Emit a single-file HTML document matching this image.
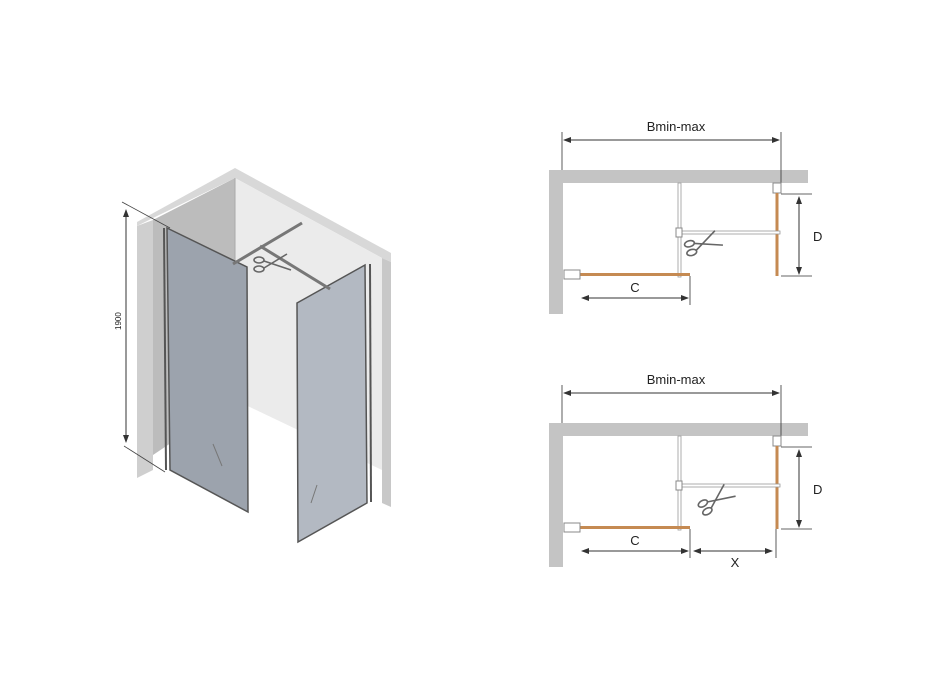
<!DOCTYPE html>
<html><head><meta charset="utf-8"><style>
html,body{margin:0;padding:0;background:#fff;}
svg{display:block}
text{font-family:"Liberation Sans",sans-serif;fill:#222}
</style></head><body>
<svg width="928" height="686" viewBox="0 0 928 686" xmlns="http://www.w3.org/2000/svg">
<defs>
<marker id="a" markerWidth="8" markerHeight="8" refX="7" refY="4" orient="auto"><path d="M0,1 L8,4 L0,7 z" fill="#333"/></marker>
<marker id="b" markerWidth="8" markerHeight="8" refX="1" refY="4" orient="auto"><path d="M8,1 L0,4 L8,7 z" fill="#333"/></marker>
<g id="sc"><g fill="none" stroke="#666" stroke-width="1.6">
<ellipse cx="-14" cy="-4" rx="5" ry="3"/><ellipse cx="-14" cy="5" rx="5" ry="3"/>
<path d="M-9,-3 L18,6 M-9,4 L14,-10"/></g></g>
</defs>
<rect width="928" height="686" fill="#fff"/>

<!-- ISO drawing -->
<polygon points="137,222 235,168 391,253 391,262 382,258 235,178 153,218 137,226" fill="#d8d8d8"/>
<polygon points="153,220 235,178 235,400 153,455" fill="#bcbcbc"/>
<polygon points="235,178 382,258 382,470 235,400" fill="#ebebeb"/>
<polygon points="137,226 153,220 153,470 137,478" fill="#cfcfcf"/>
<polygon points="382,258 391,262 391,507 382,503" fill="#c8c8c8"/>
<line x1="235" y1="178" x2="235" y2="400" stroke="#aaa" stroke-width="1"/>
<!-- left glass -->
<polygon points="167,228 247,267 248,512 170,470" fill="#9ca3ad" stroke="#555" stroke-width="1.5"/>
<line x1="164" y1="228" x2="166" y2="470" stroke="#555" stroke-width="2"/>
<!-- right glass -->
<polygon points="297,303 365,265 367,503 298,542" fill="#b3b9c2" stroke="#555" stroke-width="1.5"/>
<line x1="370" y1="264" x2="371" y2="502" stroke="#555" stroke-width="2"/>
<g stroke="#777" stroke-width="1"><line x1="213" y1="444" x2="222" y2="466"/><line x1="317" y1="485" x2="311" y2="503"/></g>
<!-- rods -->
<line x1="233" y1="264" x2="302" y2="223" stroke="#777" stroke-width="3"/>
<line x1="260" y1="246" x2="330" y2="289" stroke="#777" stroke-width="3"/>
<use href="#sc" transform="translate(273,264)"/>
<!-- height dim -->
<line x1="122" y1="202" x2="170" y2="228" stroke="#444" stroke-width="0.8"/>
<line x1="124" y1="446" x2="165" y2="472" stroke="#444" stroke-width="0.8"/>
<line x1="126" y1="210" x2="126" y2="442" stroke="#333" stroke-width="1" marker-start="url(#b)" marker-end="url(#a)"/>
<text x="0" y="0" font-size="8" transform="translate(121,330) rotate(-90)">1900</text>

<!-- Plan 1 -->
<g>
<rect x="549" y="170" width="259" height="13" fill="#c4c4c4"/>
<rect x="549" y="170" width="14" height="144" fill="#c4c4c4"/>
<line x1="562" y1="132" x2="562" y2="170" stroke="#333" stroke-width="0.8"/>
<line x1="781" y1="132" x2="781" y2="183" stroke="#333" stroke-width="0.8"/>
<line x1="564" y1="140" x2="779" y2="140" stroke="#333" stroke-width="1" marker-start="url(#b)" marker-end="url(#a)"/>
<text x="676" y="131" font-size="13" text-anchor="middle">Bmin-max</text>
<rect x="773" y="183" width="8" height="10" fill="#fff" stroke="#888"/>
<rect x="775.5" y="193" width="3" height="83" fill="#c58a52"/>
<line x1="781" y1="194" x2="812" y2="194" stroke="#333" stroke-width="0.8"/>
<line x1="781" y1="276" x2="812" y2="276" stroke="#333" stroke-width="0.8"/>
<line x1="799" y1="197" x2="799" y2="274" stroke="#333" stroke-width="1" marker-start="url(#b)" marker-end="url(#a)"/>
<text x="813" y="241" font-size="13">D</text>
<rect x="678" y="183" width="3" height="94" fill="#fff" stroke="#999" stroke-width="0.8"/>
<rect x="682" y="231" width="98" height="3" fill="#fff" stroke="#999" stroke-width="0.8"/>
<rect x="676" y="228" width="6" height="9" fill="#fff" stroke="#888"/>
<rect x="580" y="273" width="110" height="3" fill="#c58a52"/>
<rect x="564" y="270" width="16" height="9" fill="#fff" stroke="#888"/>
<line x1="690" y1="276" x2="690" y2="305" stroke="#333" stroke-width="0.8"/>
<line x1="582" y1="298" x2="688" y2="298" stroke="#333" stroke-width="1" marker-start="url(#b)" marker-end="url(#a)"/>
<text x="635" y="292" font-size="13" text-anchor="middle">C</text>
<use href="#sc" transform="translate(704,244) rotate(-15)"/>
</g>

<!-- Plan 2 -->
<g transform="translate(0,253)">
<rect x="549" y="170" width="259" height="13" fill="#c4c4c4"/>
<rect x="549" y="170" width="14" height="144" fill="#c4c4c4"/>
<line x1="562" y1="132" x2="562" y2="170" stroke="#333" stroke-width="0.8"/>
<line x1="781" y1="132" x2="781" y2="183" stroke="#333" stroke-width="0.8"/>
<line x1="564" y1="140" x2="779" y2="140" stroke="#333" stroke-width="1" marker-start="url(#b)" marker-end="url(#a)"/>
<text x="676" y="131" font-size="13" text-anchor="middle">Bmin-max</text>
<rect x="773" y="183" width="8" height="10" fill="#fff" stroke="#888"/>
<rect x="775.5" y="193" width="3" height="83" fill="#c58a52"/>
<line x1="781" y1="194" x2="812" y2="194" stroke="#333" stroke-width="0.8"/>
<line x1="781" y1="276" x2="812" y2="276" stroke="#333" stroke-width="0.8"/>
<line x1="799" y1="197" x2="799" y2="274" stroke="#333" stroke-width="1" marker-start="url(#b)" marker-end="url(#a)"/>
<text x="813" y="241" font-size="13">D</text>
<rect x="678" y="183" width="3" height="94" fill="#fff" stroke="#999" stroke-width="0.8"/>
<rect x="682" y="231" width="98" height="3" fill="#fff" stroke="#999" stroke-width="0.8"/>
<rect x="676" y="228" width="6" height="9" fill="#fff" stroke="#888"/>
<rect x="580" y="273" width="110" height="3" fill="#c58a52"/>
<rect x="564" y="270" width="16" height="9" fill="#fff" stroke="#888"/>
<line x1="690" y1="276" x2="690" y2="305" stroke="#333" stroke-width="0.8"/>
<line x1="776" y1="276" x2="776" y2="305" stroke="#333" stroke-width="0.8"/>
<line x1="582" y1="298" x2="688" y2="298" stroke="#333" stroke-width="1" marker-start="url(#b)" marker-end="url(#a)"/>
<line x1="694" y1="298" x2="772" y2="298" stroke="#333" stroke-width="1" marker-start="url(#b)" marker-end="url(#a)"/>
<text x="635" y="292" font-size="13" text-anchor="middle">C</text>
<text x="735" y="314" font-size="13" text-anchor="middle">X</text>
<use href="#sc" transform="translate(717,247) rotate(-30)"/>
</g>
</svg>
</body></html>
